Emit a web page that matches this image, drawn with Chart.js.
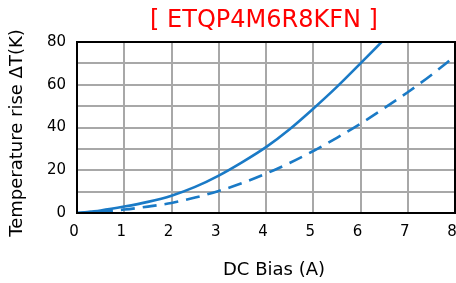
<!DOCTYPE html>
<html>
<head>
<meta charset="utf-8">
<script src="https://cdn.jsdelivr.net/npm/chart.js@4"></script>
<style>
  html, body { margin: 0; padding: 0; background: #fff; }
  #wrap { width: 456px; height: 283px; }
</style>
</head>
<body>
<div id="wrap"><canvas id="chart" width="456" height="283"></canvas></div>
<script>
// DC bias (A) vs temperature rise (K)
var biasSolid = [0, 0.5, 1, 1.5, 2, 2.5, 3, 3.5, 4, 4.5, 5, 5.5, 6, 6.5, 7];
var riseSolid = [0, 1.2, 3, 5.2, 8.1, 12.2, 17.5, 23.8, 30.8, 39.2, 48.8, 59, 70, 81.2, 93];
var biasDashed = [0, 0.5, 1, 1.5, 2, 2.5, 3, 3.5, 4, 4.5, 5, 5.5, 6, 6.5, 7, 7.5, 8];
var riseDashed = [0, 0.7, 1.6, 3, 4.7, 7.2, 10.3, 14, 18.4, 23.4, 29, 35.2, 41.8, 49, 56.5, 64.6, 73.4];
var titleText = '[ ETQP4M6R8KFN ]';
var xTitle = 'DC Bias (A)';
var yTitle = 'Temperature rise ΔT(K)';

function toPoints(xs, ys) {
  return xs.map(function (x, i) { return { x: x, y: ys[i] }; });
}

const ctx = document.getElementById('chart').getContext('2d');
const FONT = '"DejaVu Sans", sans-serif';

// frame, chart title and axis titles
const framePlugin = {
  id: 'frame',
  afterDraw: function (chart) {
    const a = chart.chartArea;
    const c = chart.ctx;
    c.save();
    c.strokeStyle = '#000';
    c.lineWidth = 2;
    c.strokeRect(a.left, a.top, a.right - a.left, a.bottom - a.top);
    c.textAlign = 'center';
    c.textBaseline = 'middle';
    c.fillStyle = '#ff0000';
    c.font = '24px ' + FONT;
    c.fillText(titleText, (a.left + a.right) / 2 - 2, 21);
    c.fillStyle = '#000';
    c.font = '18px ' + FONT;
    c.fillText(xTitle, 274, 270);
    c.translate(17, 133);
    c.rotate(-Math.PI / 2);
    c.fillText(yTitle, 0, 0);
    c.restore();
  }
};

var my_chart = new Chart(ctx, {
  type: 'scatter',
  data: {
    datasets: [{
      data: toPoints(biasSolid, riseSolid),
      showLine: true,
      borderColor: '#1a7ac6',
      borderWidth: 2.6,
      pointRadius: 0,
      cubicInterpolationMode: 'monotone'
    }, {
      data: toPoints(biasDashed, riseDashed),
      showLine: true,
      borderColor: '#1a7ac6',
      borderWidth: 2.6,
      borderDash: [14, 8],
      pointRadius: 0,
      cubicInterpolationMode: 'monotone'
    }]
  },
  options: {
    responsive: false,
    animation: false,
    layout: { padding: { top: 42, right: 1, left: 0, bottom: 0 } },
    plugins: { legend: { display: false }, tooltip: { enabled: false } },
    scales: {
      x: {
        min: 0, max: 8,
        afterFit: function (s) { s.height = 70; s.paddingRight = 0; s.paddingLeft = 0; },
        border: { display: false },
        grid: { color: '#a8a8a8', lineWidth: 2, drawTicks: false },
        ticks: { stepSize: 1, color: '#000', padding: 10, labelOffset: -3, font: { family: FONT, size: 15 } }
      },
      y: {
        min: 0, max: 80,
        afterFit: function (s) { s.width = 77; },
        border: { display: false },
        grid: { color: '#a8a8a8', lineWidth: 2, drawTicks: false },
        ticks: {
          stepSize: 10, color: '#000', padding: 11, font: { family: FONT, size: 15 },
          callback: function (v) { return v % 20 === 0 ? v : ''; }
        }
      }
    }
  },
  plugins: [framePlugin]
});
</script>
</body>
</html>
